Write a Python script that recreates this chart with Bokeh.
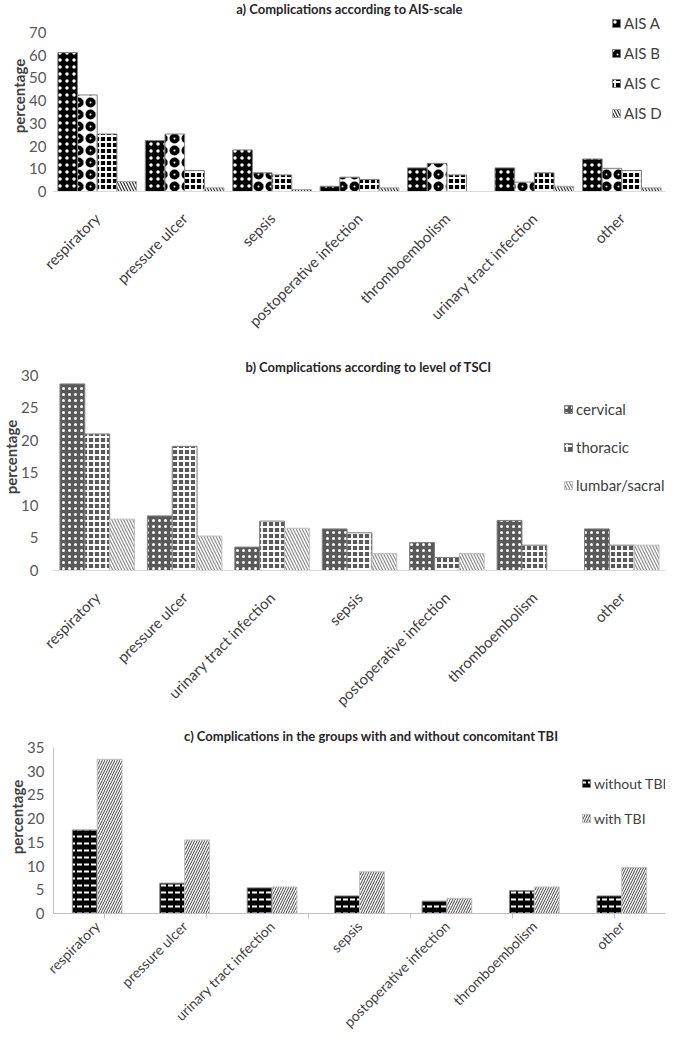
import math
from bokeh.plotting import figure
from bokeh.models import (FactorRange, Range1d, Legend, LegendItem, Label, Title,
                          CategoricalAxis, ColumnDataSource)
from bokeh.transform import dodge
from bokeh.layouts import column
from bokeh.embed import file_html
from bokeh.resources import INLINE

FONT = "Lato"

# ---------------- data ----------------
title_a = "a) Complications according to AIS-scale"
cats_a = ["respiratory", "pressure ulcer", "sepsis", "postoperative infection",
          "thromboembolism", "urinary tract infection", "other"]
ais_a = [61.2, 22.4, 18.3, 2.3, 10.4, 10.4, 14.3]
ais_b = [42.5, 25.3, 8.2, 6.3, 12.4, 4.1, 10.2]
ais_c = [25.3, 9.2, 7.3, 5.3, 7.3, 8.2, 9.2]
ais_d = [4.4, 1.6, 0.9, 1.6, 0.0, 2.3, 1.6]
names_a = ["AIS A", "AIS B", "AIS C", "AIS D"]
ticks_a = [0, 10, 20, 30, 40, 50, 60, 70]

title_b = "b) Complications according to level of TSCI"
cats_b = ["respiratory", "pressure ulcer", "urinary tract infection", "sepsis",
          "postoperative infection", "thromboembolism", "other"]
cervical = [28.7, 8.4, 3.6, 6.4, 4.3, 7.7, 6.4]
thoracic = [21.0, 19.1, 7.6, 5.8, 2.0, 3.9, 3.9]
lumbar = [7.9, 5.3, 6.5, 2.6, 2.6, 0.0, 3.9]
names_b = ["cervical", "thoracic", "lumbar/sacral"]
ticks_b = [0, 5, 10, 15, 20, 25, 30]

title_c = "c) Complications in the groups with and without concomitant TBI"
cats_c = ["respiratory", "pressure ulcer", "urinary tract infection", "sepsis",
          "postoperative infection", "thromboembolism", "other"]
without_tbi = [17.6, 6.4, 5.4, 3.7, 2.6, 4.8, 3.7]
with_tbi = [32.5, 15.5, 5.6, 8.8, 3.2, 5.6, 9.7]
names_c = ["without TBI", "with TBI"]
ticks_c = [0, 5, 10, 15, 20, 25, 30, 35]

y_label = "percentage"

W = 685


def base_fig(cats, yend, height, left, right, bottom):
    p = figure(x_range=FactorRange(*cats), y_range=Range1d(0, yend),
               width=W, height=height, output_backend="svg", toolbar_location=None,
               min_border_left=left, min_border_right=right,
               min_border_top=0, min_border_bottom=bottom)
    p.outline_line_color = None
    p.xgrid.visible = False
    p.ygrid.visible = False
    return p


def style_y(p, ticks, standoff, line_color=None):
    ax = p.yaxis[0]
    ax.ticker = ticks
    ax.bounds = (ticks[0], ticks[-1])
    ax.axis_line_color = line_color
    ax.major_tick_line_color = None
    ax.minor_tick_line_color = None
    ax.major_tick_out = 0
    ax.minor_tick_out = 0
    ax.major_label_text_font = FONT
    ax.major_label_text_font_size = "15px"
    ax.major_label_text_color = "#595959"
    ax.major_label_standoff = standoff
    p.add_layout(Title(text=y_label, align="center", vertical_align="top", standoff=-6,
                       text_font=FONT, text_font_size="15px", text_font_style="bold",
                       text_color="#404040"), "left")


def style_x(p, font_size, standoff, line_color):
    ax = p.xaxis[0]
    ax.major_label_orientation = math.pi / 4
    ax.axis_line_color = line_color
    ax.major_tick_line_color = None
    ax.major_tick_out = 0
    ax.major_label_text_font = FONT
    ax.major_label_text_font_size = font_size
    ax.major_label_text_color = "#404040"
    ax.major_label_standoff = standoff


def add_title(p, text, x, y):
    p.add_layout(Label(x=x, y=y, x_units="screen", y_units="screen", text=text,
                       text_align="center", text_baseline="middle",
                       text_font=FONT, text_font_size="13px", text_font_style="bold",
                       text_color="#262626"))


def add_legend(p, items, loc, font_size, label_height, spacing):
    leg = Legend(items=[LegendItem(label=l, renderers=[r]) for l, r in items],
                 location=loc, orientation="vertical", border_line_color=None,
                 background_fill_alpha=0, padding=0, margin=0, spacing=spacing,
                 glyph_width=10, glyph_height=10, label_height=label_height,
                 label_standoff=3, label_text_font=FONT, label_text_font_size=font_size,
                 label_text_color="#404040")
    p.add_layout(leg)


# ---------------- panel a ----------------
pa = base_fig(cats_a, 84.09, 343, 48, 15, 152)
src_a = ColumnDataSource(dict(cat=cats_a, a=ais_a, b=ais_b, c=ais_c, d=ais_d))
bw_a = 0.225
offs_a = [-1.5 * bw_a, -0.5 * bw_a, 0.5 * bw_a, 1.5 * bw_a]
styles_a = [
    dict(fill_color="black", hatch_pattern="dot", hatch_color="white", hatch_scale=7, hatch_weight=2, line_color="#7f7f7f"),
    dict(fill_color="white", hatch_pattern="ring", hatch_color="black", hatch_scale=12, hatch_weight=4, line_color="#7f7f7f"),
    dict(fill_color="black", hatch_pattern="cross", hatch_color="white", hatch_scale=6, hatch_weight=1.8, line_color="#7f7f7f"),
    dict(fill_color="white", hatch_pattern="left_diagonal_line", hatch_color="#303030", hatch_scale=6, hatch_weight=1.2, line_color="#a6a6a6"),
]
rends_a = []
for field, off, st in zip(["a", "b", "c", "d"], offs_a, styles_a):
    rends_a.append(pa.vbar(x=dodge("cat", off, range=pa.x_range), top=field, width=bw_a,
                           source=src_a, line_width=1, **st))
style_y(pa, ticks_a, 7)
style_x(pa, "15px", 24, "#d9d9d9")
add_title(pa, title_a, 296, 183)
add_legend(pa, list(zip(names_a, rends_a)), (558, 69), "15px", 18, 12)

# ---------------- panel b ----------------
pb = base_fig(cats_b, 34.92, 377, 53, 16, 150)
src_b = ColumnDataSource(dict(cat=cats_b, c=cervical, t=thoracic, l=lumbar))
bw_b = 0.284
offs_b = [-bw_b, 0.0, bw_b]
styles_b = [
    dict(fill_color="#595959", hatch_pattern="dot", hatch_color="white", hatch_scale=6, hatch_weight=1.6, line_color="#7f7f7f"),
    dict(fill_color="#595959", hatch_pattern="cross", hatch_color="white", hatch_scale=6, hatch_weight=1.8, line_color="#7f7f7f"),
    dict(fill_color="white", hatch_pattern="left_diagonal_line", hatch_color="#8c8c8c", hatch_scale=6, hatch_weight=1.2, line_color="#bfbfbf"),
]
rends_b = []
for field, off, st in zip(["c", "t", "l"], offs_b, styles_b):
    rends_b.append(pb.vbar(x=dodge("cat", off, range=pb.x_range), top=field, width=bw_b,
                           source=src_b, line_width=1, **st))
style_y(pb, ticks_b, 15)
style_x(pb, "15px", 24, "#d9d9d9")
add_title(pb, title_b, 315, 204)
add_legend(pb, list(zip(names_b, rends_b)), (510, 75), "15px", 20, 18)

# ---------------- panel c ----------------
pc = base_fig(cats_c, 40.69, 319, 49, 20, 126)
src_c = ColumnDataSource(dict(cat=cats_c, w=without_tbi, t=with_tbi))
bw_c = 0.284
offs_c = [-0.5 * bw_c, 0.5 * bw_c]
styles_c = [
    dict(fill_color="black", hatch_pattern="horizontal_dash", hatch_color="white", hatch_scale=7, hatch_weight=2, line_color="#7f7f7f"),
    dict(fill_color="white", hatch_pattern="right_diagonal_line", hatch_color="#404040", hatch_scale=5, hatch_weight=1, line_color="#bfbfbf"),
]
rends_c = []
for field, off, st in zip(["w", "t"], offs_c, styles_c):
    rends_c.append(pc.vbar(x=dodge("cat", off, range=pc.x_range), top=field, width=bw_c,
                           source=src_c, line_width=1, **st))
style_y(pc, ticks_c, 9, line_color="#bfbfbf")
style_x(pc, "14px", 5, None)
# category boundaries: one factor per boundary, shifted by half a category
edge_factors = ["e%d" % i for i in range(len(cats_c) + 1)]
pc.extra_x_ranges = {"edges": FactorRange(factors=edge_factors, range_padding=-1,
                                          range_padding_units="absolute")}
edge_axis = CategoricalAxis(x_range_name="edges",
                            axis_line_color="#bfbfbf", major_tick_line_color="#bfbfbf",
                            major_tick_out=5, major_tick_in=0,
                            major_label_text_font_size="1px", major_label_standoff=0,
                            major_label_text_color=None,
                            major_label_overrides={f: "" for f in edge_factors})
pc.below = [edge_axis] + list(pc.below)
add_title(pc, title_c, 318, 178)
add_legend(pc, list(zip(names_c, rends_c)), (528, 86), "14px", 18, 17)

layout = column(pa, pb, pc)
open("out.html", "w").write(file_html(layout, INLINE))
